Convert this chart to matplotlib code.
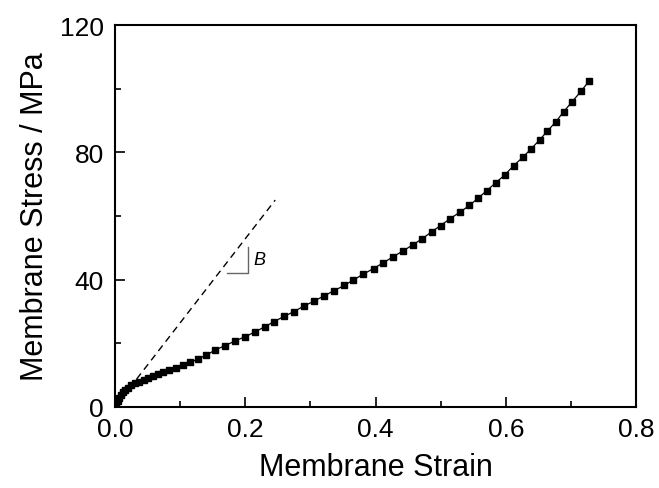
import matplotlib
matplotlib.use("Agg")
from matplotlib import pyplot as plt
from matplotlib.ticker import MultipleLocator

# data
strain = [0.000, 0.002, 0.004, 0.006, 0.009, 0.012, 0.016, 0.020, 0.025, 0.031,
          0.037, 0.044, 0.051, 0.058, 0.066, 0.074, 0.083, 0.093, 0.104, 0.115,
          0.127, 0.140, 0.154, 0.169, 0.184, 0.200, 0.215, 0.230, 0.244, 0.260,
          0.275, 0.290, 0.306, 0.321, 0.336, 0.352, 0.366, 0.381, 0.397, 0.412,
          0.427, 0.442, 0.457, 0.472, 0.486, 0.500, 0.514, 0.529, 0.544, 0.557,
          0.571, 0.585, 0.599, 0.612, 0.626, 0.639, 0.652, 0.664, 0.677, 0.689,
          0.702, 0.716, 0.728]
stress = [0.0, 0.8, 1.8, 2.8, 3.8, 4.6, 5.4, 6.1, 6.8, 7.4,
          8.0, 8.6, 9.2, 9.8, 10.4, 11.0, 11.6, 12.3, 13.1, 14.0,
          15.0, 16.3, 17.9, 19.3, 20.7, 22.1, 23.6, 25.2, 26.8, 28.5,
          30.0, 31.7, 33.3, 34.9, 36.5, 38.2, 39.9, 41.7, 43.5, 45.3,
          47.2, 49.0, 50.9, 52.9, 55.0, 57.0, 59.1, 61.1, 63.3, 65.5,
          68.0, 70.5, 73.0, 75.8, 78.4, 81.1, 83.9, 86.7, 89.6, 92.8,
          95.9, 99.3, 102.4]

# initial slope line B
slope_x = [0.0, 0.246]
slope_y = [0.0, 65.0]

plt.rcParams['font.family'] = ['Liberation Sans', 'DejaVu Sans']

fig = plt.figure(figsize=(6.59, 4.89), dpi=100)
ax = fig.add_axes([115 / 659, 1 - 408 / 489, (636 - 115) / 659, (408 - 26) / 489])

ax.plot(slope_x, slope_y, linestyle=(0, (5, 3.5)), color='black', linewidth=1.0)
ax.plot(strain, stress, color='black', linewidth=0.9, marker='s', markersize=4.6)

# small slope triangle
ax.plot([0.1724, 0.2047, 0.2047], [42.2, 42.2, 50.4], color='#666666', linewidth=1.0)
ax.text(0.213, 46.2, 'B', fontsize=13, style='italic', va='center', ha='left')

ax.set_xlim(0, 0.8)
ax.set_ylim(0, 120)
ax.xaxis.set_major_locator(MultipleLocator(0.2))
ax.xaxis.set_minor_locator(MultipleLocator(0.1))
ax.yaxis.set_major_locator(MultipleLocator(40))
ax.yaxis.set_minor_locator(MultipleLocator(20))
ax.xaxis.set_major_formatter(plt.FuncFormatter(lambda v, p: f"{v:.1f}"))
ax.tick_params(which='both', direction='in', top=False, right=False, width=1.2)
ax.tick_params(which='major', length=7, labelsize=19)
ax.tick_params(axis='x', which='major', pad=7)
ax.tick_params(axis='y', which='major', pad=8)
ax.tick_params(which='minor', length=4)
for s in ax.spines.values():
    s.set_linewidth(1.5)

ax.set_xlabel('Membrane Strain', fontsize=22, labelpad=8)
ax.set_ylabel('Membrane Stress / MPa', fontsize=22, labelpad=7)

fig.savefig('out.png', dpi=100)
